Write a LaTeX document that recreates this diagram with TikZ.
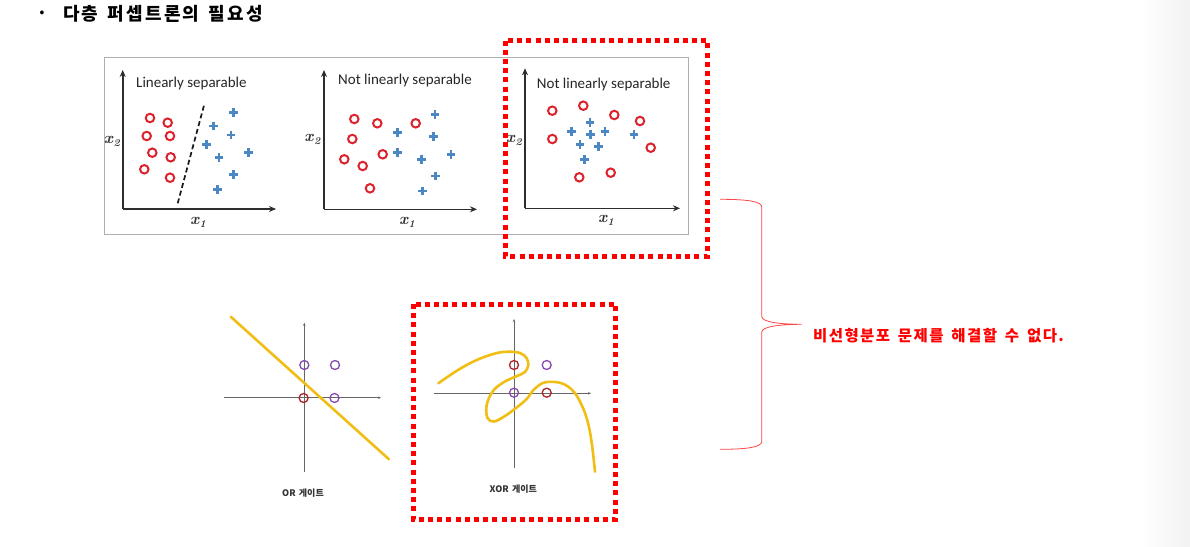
\documentclass[tikz,border=0pt]{standalone}
\usepackage{fontspec}
\usetikzlibrary{arrows.meta}
\newfontfamily\krfont{Noto Sans CJK KR}[WordSpace=1.6]
\newfontfamily\krwide{Noto Sans CJK KR}[WordSpace=1.5, LetterSpace=12]
\newfontfamily\krred{Noto Sans CJK KR}[WordSpace=1.6, LetterSpace=9]
\newfontfamily\calfont{Carlito}
\definecolor{ringred}{RGB}{220,35,45}
\definecolor{plusblue}{RGB}{75,135,195}
\definecolor{axisdark}{RGB}{45,45,45}
\definecolor{framegray}{RGB}{175,175,175}
\definecolor{goldline}{RGB}{240,190,20}
\definecolor{ptpurple}{RGB}{135,75,175}
\definecolor{ptred}{RGB}{175,35,40}
\definecolor{bracered}{RGB}{255,70,70}
\newcommand\xlab[1]{\textbf{\textit{x}}\raisebox{-3pt}{\fontsize{10.5}{10.5}\selectfont\textbf{\textit{#1}}}}
\tikzset{
  ring/.style={circle, draw=ringred, line width=2pt, minimum size=8.5pt, inner sep=0pt},
  pl/.pic={\draw[plusblue, line width=2.6pt] (-4.4,0)--(4.4,0) (0,-4.4)--(0,4.4);},
  axis/.style={draw=axisdark, line width=1.6pt, -{Stealth[length=7pt,width=6pt]}},
  thinaxis/.style={draw=black!60, line width=0.7pt, -{Stealth[length=3pt,width=2.5pt]}},
  redframe/.style={draw=red, line width=5pt, dash pattern=on 5pt off 4.2pt},
  ptp/.style={circle, draw=ptpurple, line width=1.3pt, minimum size=9pt, inner sep=0pt},
  ptr/.style={circle, draw=ptred, line width=1.3pt, minimum size=9pt, inner sep=0pt},
  plottitle/.style={font=\calfont\fontsize{15}{17}\selectfont, text=black!85, inner sep=0pt},
  axlabel/.style={font=\fontsize{16}{18}\selectfont, text=black!80, inner sep=0pt},
  gatelabel/.style={font=\krfont\bfseries\fontsize{9}{11}\selectfont, text=black!80, inner sep=0pt},
  gold/.style={draw=goldline, line width=2.6pt, line cap=round, line join=round}
}
\begin{document}
\begin{tikzpicture}[x=1pt,y=-1pt]
\useasboundingbox (0,0) rectangle (1190,546);
\fill[white] (0,0) rectangle (1190,546);
\shade[left color=white, right color=black!5] (1140,0) rectangle (1190,546);

% title
\node[font=\krfont\bfseries\fontsize{12}{14}\selectfont, inner sep=0pt] (bullet) at (42,14) {•};
\node[font=\krwide\bfseries\fontsize{18}{21}\selectfont, anchor=west, inner sep=0pt] (title) at (63,13.5) {다층 퍼셉트론의 필요성};

% top panel frame
\draw[framegray, line width=1pt] (104,57.5) rectangle (688,234.5);

% ---- plot 1
\draw[axis] (122.7,209) -- (122.7,70);
\draw[axis] (122.7,209) -- (276,209);
\node[plottitle, anchor=west] (t1) at (136,83) {Linearly separable};
\node[axlabel] (y1) at (112,141) {\xlab{2}};
\node[axlabel] (x1) at (198,222) {\xlab{1}};
\foreach \p in {(150,118),(167.7,122.7),(146.7,136),(170,136),(152.3,152.7),(170.7,157.3),(144.3,169.3),(170,177.7)}
  \node[ring] at \p {};
\foreach \p in {(233.3,112.7),(213.3,126),(231,135),(206.7,144.3),(219,157.7),(248.3,152.7),(233.3,174.3),(217.7,189.3)}
  \pic at \p {pl};
\draw[black!90, line width=1.7pt, dash pattern=on 5pt off 3pt] (177.7,203.3) -- (204.3,104.3);

% ---- plot 2
\draw[axis] (324,209.3) -- (324,70);
\draw[axis] (324,209.3) -- (477,209.3);
\node[plottitle, anchor=west] (t2) at (338,80) {Not linearly separable};
\node[axlabel] (y2) at (312.5,139) {\xlab{2}};
\node[axlabel] (x2) at (407,222) {\xlab{1}};
\foreach \p in {(354.3,119),(377.3,123.3),(415.7,123.3),(352.3,139),(382.7,154.3),(344.3,159.3),(362.7,166),(370,188.3)}
  \node[ring] at \p {};
\foreach \p in {(435,114.3),(397.3,132.3),(433.3,136.7),(397.3,152.3),(451,154.3),(421.7,159.3),(435.7,176),(422.3,191)}
  \pic at \p {pl};

% ---- plot 3
\draw[axis] (525,208.3) -- (525,68.3);
\draw[axis] (525,208.3) -- (680,208.3);
\node[plottitle, anchor=west] (t3) at (536.7,84) {Not linearly separable};
\node[axlabel] (y3) at (514,140) {\xlab{2}};
\node[axlabel] (x3) at (606,220) {\xlab{1}};
\foreach \p in {(552.3,110.7),(583.3,105.7),(614.3,115),(640,121),(552.3,139),(650.7,147.7),(579.3,177.3),(610.7,172.7)}
  \node[ring] at \p {};
\foreach \p in {(590,122.3),(571.7,131.7),(590.7,134.3),(605,131.7),(634,134.3),(580,144.3),(598.3,146.7),(584.3,159.3)}
  \pic at \p {pl};

\draw[redframe] (505,40.5) rectangle (707.5,256);

% ---- OR gate
\draw[thinaxis] (304.3,471.7) -- (304.3,322.7);
\draw[thinaxis] (224.3,397.7) -- (381,397.7);
\node[ptp] (or01) at (304.3,365) {};
\node[ptp] (or11) at (335,365) {};
\node[ptr] (or00) at (303.6,398) {};
\node[ptp] (or10) at (334.5,398) {};
\draw[gold] (230.7,316.7) -- (389,459.3);
\node[gatelabel] (orlab) at (303,493.5) {OR 게이트};

% ---- XOR gate
\draw[thinaxis] (514,467.7) -- (514,319);
\draw[thinaxis] (434,393.3) -- (591,393.3);
\node[ptr] (x01) at (514,365) {};
\node[ptp] (x11) at (546.7,365) {};
\node[ptp] (x00) at (514,392.7) {};
\node[ptr] (x10) at (546.7,392.7) {};
\draw[gold] plot[smooth, tension=0.6] coordinates {
 (438.3,383.3) (458,370) (476.7,360) (495,353.5) (508,351.7) (520,353) (526.5,358) (528.3,365) (525,372) (517,376)
 (504,382) (493,391) (486.7,405) (487.5,418) (494,421.5) (505,416) (516,408) (526.7,399) (534,389.5)
 (545,382.3) (561.7,383.3) (574,392) (583,408) (588.5,425) (592,445) (595,471.7)};
\node[gatelabel] (xorlab) at (513.3,489.5) {XOR 게이트};

\draw[redframe] (413.5,304) rectangle (615.5,519.5);

% ---- brace and conclusion
\coordinate (btop) at (720,199.3);
\coordinate (bbot) at (720,449.3);
\coordinate (btip) at (801.7,324.3);
\draw[bracered, line width=0.8pt] (btop) .. controls (748,199.3) and (761.7,201.5) .. (761.7,207)
  -- (761.7,316.5) .. controls (761.7,322) and (780,324.3) .. (btip)
  .. controls (780,324.3) and (761.7,326.6) .. (761.7,332)
  -- (761.7,441.5) .. controls (761.7,447) and (748,449.3) .. (bbot);
\node[font=\krred\bfseries\fontsize{15.5}{18}\selectfont, text=red, anchor=west, inner sep=0pt] (concl) at (813,335.5) {비선형분포 문제를 해결할 수 없다.};
\end{tikzpicture}
\end{document}
